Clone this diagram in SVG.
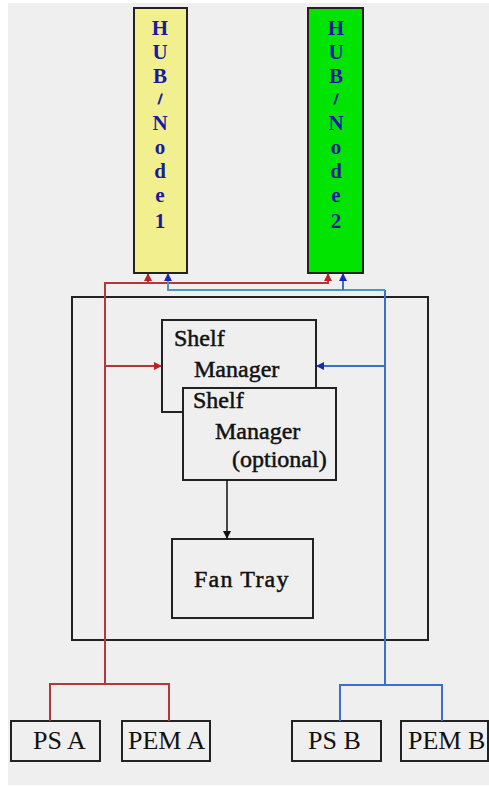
<svg xmlns="http://www.w3.org/2000/svg" width="489" height="787" viewBox="0 0 489 787">
<style>
.box{fill:none;stroke:#222;stroke-width:2}
.t{font-family:"Liberation Serif","Times New Roman",serif;font-size:24px;fill:#111;stroke:#111;stroke-width:0.5}
.b{font-family:"Liberation Serif","Times New Roman",serif;font-size:26px;fill:#111}
.h{font-family:"Liberation Serif","Times New Roman",serif;font-size:21px;font-weight:bold;fill:#1a1aa0;text-anchor:middle}
.s{font-family:"Liberation Serif","Times New Roman",serif;font-size:15px;font-weight:bold;fill:#1a1aa0;text-anchor:middle;stroke:#1a1aa0;stroke-width:0.8}
.red{fill:none;stroke:#b03a3a;stroke-width:2}
.blue{fill:none;stroke:#3a6fd0;stroke-width:2}
</style>
<defs>
<marker id="ar" markerWidth="8" markerHeight="8" refX="7" refY="4" orient="auto" markerUnits="userSpaceOnUse"><path d="M0,0 L8,4 L0,8 z" fill="#c02020"/></marker>
<marker id="ab" markerWidth="8" markerHeight="8" refX="7" refY="4" orient="auto" markerUnits="userSpaceOnUse"><path d="M0,0 L8,4 L0,8 z" fill="#1a2ab0"/></marker>
<marker id="ak" markerWidth="8" markerHeight="8" refX="7" refY="4" orient="auto" markerUnits="userSpaceOnUse"><path d="M0,0 L8,4 L0,8 z" fill="#111"/></marker>
</defs>
<rect x="0" y="0" width="489" height="787" fill="#fff"/>
<rect x="8" y="3" width="481" height="782" fill="#efefef"/>

<g id="hub1">
<rect x="134" y="8" width="53" height="265" fill="#f2ef8e" stroke="#222" stroke-width="2"/>
<text class="h" x="160" y="35">H</text><text class="h" x="160" y="59">U</text><text class="h" x="160" y="83">B</text><text class="s" x="160" y="104">/</text><text class="h" x="160" y="130">N</text><text class="h" x="160" y="154">o</text><text class="h" x="160" y="178">d</text><text class="h" x="160" y="202">e</text><text class="h" x="160" y="228">1</text>
</g>
<g id="hub2">
<rect x="308" y="8" width="55" height="265" fill="#00e400" stroke="#222" stroke-width="2"/>
<text class="h" x="336" y="35">H</text><text class="h" x="336" y="59">U</text><text class="h" x="336" y="83">B</text><text class="s" x="336" y="104">/</text><text class="h" x="336" y="130">N</text><text class="h" x="336" y="154">o</text><text class="h" x="336" y="178">d</text><text class="h" x="336" y="202">e</text><text class="h" x="336" y="228">2</text>
</g>

<g id="shelf">
<rect class="box" x="72" y="297" width="356" height="343"/>
</g>

<g id="sm1">
<rect x="162" y="320" width="154" height="92" fill="#efefef" stroke="#222" stroke-width="2"/>
<text class="t" x="174" y="346">Shelf</text>
<text class="t" x="194" y="377">Manager</text>
</g>
<g id="sm2">
<rect x="183" y="388" width="153" height="92" fill="#efefef" stroke="#222" stroke-width="2"/>
<text class="t" x="193" y="408">Shelf</text>
<text class="t" x="215" y="439">Manager</text>
<text class="t" x="232" y="467">(optional)</text>
</g>
<g id="fan">
<rect class="box" x="172" y="539" width="141" height="79"/>
<text class="t" x="194" y="587" letter-spacing="1.2">Fan Tray</text>
</g>

<g id="psa"><rect class="box" x="11" y="721" width="89" height="40"/><text class="b" x="33" y="749">PS A</text></g>
<g id="pema"><rect class="box" x="122" y="721" width="88" height="40"/><text class="b" x="128" y="749">PEM A</text></g>
<g id="psb"><rect class="box" x="292" y="721" width="89" height="40"/><text class="b" x="308" y="749">PS B</text></g>
<g id="pemb"><rect class="box" x="401" y="721" width="87" height="40"/><text class="b" x="408" y="749">PEM B</text></g>

<g id="connectors">
<path class="red" d="M50,721 V684 H169 V721"/>
<path class="red" d="M105,684 V283 H328 V274" marker-end="url(#ar)"/>
<path class="red" d="M148,283 V274" marker-end="url(#ar)"/>
<path class="red" d="M105,366 H161" marker-end="url(#ar)"/>
<path class="blue" d="M340,721 V685 H442 V721"/>
<path class="blue" d="M385,685 V290" />
<path d="M385,290 H168 V274" fill="none" stroke="#4a98c0" stroke-width="2" marker-end="url(#ab)"/>
<path class="blue" d="M343,290 V274" marker-end="url(#ab)"/>
<path class="blue" d="M385,366 H317" marker-end="url(#ab)"/>
<path d="M227,480 V538" stroke="#111" stroke-width="1.5" fill="none" marker-end="url(#ak)"/>
</g>
</svg>
